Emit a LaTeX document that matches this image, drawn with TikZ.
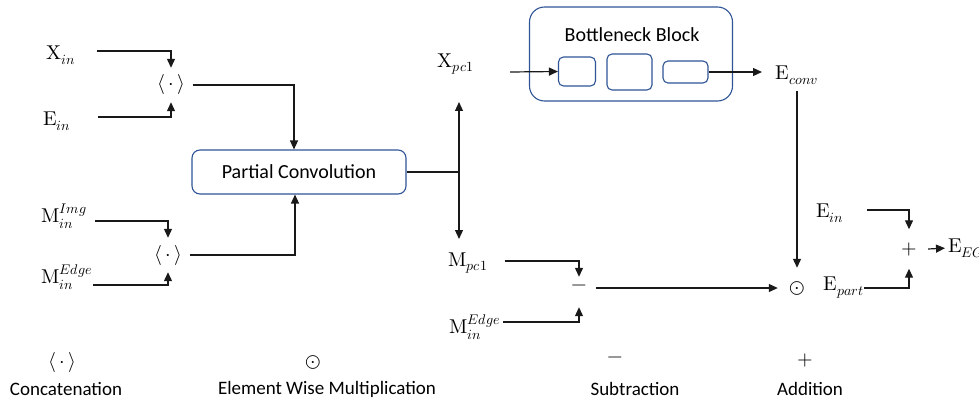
\documentclass[tikz,border=0pt]{standalone}
\usepackage{fontspec}
\usepackage{unicode-math}
\setmainfont{Carlito}
\setmathfont{Latin Modern Math}
\usetikzlibrary{arrows.meta}
\definecolor{boxblue}{RGB}{47,85,151}
\definecolor{linecol}{RGB}{25,25,25}
\begin{document}
\begin{tikzpicture}[x=1pt,y=-1pt,
  lbl/.style={inner sep=0pt,font=\fontsize{20}{24}\selectfont},
  op/.style={inner sep=0pt,font=\fontsize{20}{24}\selectfont},
  wire/.style={draw=linecol,line width=1.2pt},
  arr/.style={wire,-{Triangle[length=9pt,width=8pt]}},
  rbox/.style={draw=boxblue,line width=1.1pt,rounded corners=8pt,fill=white,inner sep=0pt},
  txt/.style={font=\fontsize{20}{24}\selectfont,inner sep=0pt},
  legtxt/.style={font=\fontsize{19}{22}\selectfont,inner sep=0pt}]
\useasboundingbox (0,0) rectangle (979,401);

% ---------- left inputs ----------
\node[lbl] (xin) at (61,55) {$\symup{X}_{in}$};
\node[lbl] (ein) at (57,121) {$\symup{E}_{in}$};
\node[lbl] (mimg) at (64,216) {$\symup{M}_{in}^{Img}$};
\node[lbl] (medge) at (67,277) {$\symup{M}_{in}^{Edge}$};
\coordinate (xinS) at (97,51);
\coordinate (einS) at (98,117);
\coordinate (mimgS) at (95,221);
\coordinate (medgeS) at (93,285);

\node[op,minimum width=44pt,minimum height=34pt] (cat1) at (171,85) {$\langle\,\cdot\,\rangle$};
\node[op,minimum width=44pt,minimum height=34pt] (cat2) at (168,255) {$\langle\,\cdot\,\rangle$};

\node[rbox,txt,minimum width=214pt,minimum height=44pt] (pc) at (299,172) {Partial Convolution};

\draw[arr] (xinS) -| (cat1.north);
\draw[arr] (einS) -| (cat1.south);
\draw[arr] (mimgS) -| (cat2.north);
\draw[arr] (medgeS) -| (cat2.south);
\draw[arr] (cat1.east) -| ([xshift=-5pt]pc.north);
\draw[arr] (cat2.east) -| ([xshift=-4pt]pc.south);

% ---------- split ----------
\coordinate (jn) at (459,172);
\coordinate (jt) at (459,102);
\coordinate (jb) at (459,239);
\draw[wire] (pc.east) -- (jn);
\draw[arr] (jn) -- (jt);
\draw[arr] (jn) -- (jb);

% ---------- bottleneck ----------
\node[lbl] (xpc) at (456,64) {$\symup{X}_{pc1}$};
\coordinate (xpcS) at (510,72);
\node[rbox,rounded corners=15pt,minimum width=203pt,minimum height=94pt] (bb) at (631,54) {};
\node[txt] (bbt) at (632,35) {Bottleneck Block};
\node[rbox,rounded corners=5pt,minimum width=37pt,minimum height=29pt] (b1) at (577,71.5) {};
\node[rbox,rounded corners=5pt,minimum width=45pt,minimum height=36pt] (b2) at (629.5,72) {};
\node[rbox,rounded corners=5pt,minimum width=45pt,minimum height=22pt] (b3) at (685.5,72) {};
\draw[arr] (xpcS) -- (b1.west);

\node[lbl] (econv) at (797,75) {$\symup{E}_{conv}$};
\coordinate (ectip) at (762,72);
\draw[arr] (b3.east) -- (ectip);

% ---------- mask path ----------
\node[lbl] (mpc) at (468,263) {$\symup{M}_{pc1}$};
\node[lbl] (medge2) at (475,327) {$\symup{M}_{in}^{Edge}$};
\coordinate (mpcS) at (505,261);
\coordinate (medge2S) at (503,322);
\node[op,minimum width=34pt,minimum height=22pt] (sub) at (579,288) {$-$};
\draw[arr] (mpcS) -| (sub.north);
\draw[arr] (medge2S) -| ([yshift=-8pt]sub.south);

\node[op,minimum width=38pt,minimum height=40pt] (odot) at (797,288) {$\odot$};
\draw[arr] (sub.east) -- (odot.west);
\draw[arr,shorten <=6pt] (econv.south -| odot.north) -- (odot.north);

% ---------- addition ----------
\node[lbl,anchor=east] (epart) at (864,288) {$\symup{E}_{part}$};
\node[lbl] (ein2) at (830,213) {$\symup{E}_{in}$};
\coordinate (ein2S) at (867,210);
\node[op,minimum width=38pt,minimum height=39pt] (plus) at (909,249) {$+$};
\node[lbl,anchor=west] (eeg) at (948,248) {$\symup{E}_{EG}$};
\draw[arr] (ein2S) -| (plus.north);
\draw[arr] (epart.east) -| (plus.south);
\draw[arr,shorten >=3pt] (plus.east) -- (eeg.west);

% ---------- legend ----------
\node[op] (lcat) at (62,362) {$\langle\,\cdot\,\rangle$};
\node[legtxt] (lcatt) at (66,389) {Concatenation};
\node[op] (lodot) at (313,362) {$\odot$};
\node[legtxt] (lodott) at (327,389) {Element Wise Multiplication};
\node[op] (lsub) at (615,360) {$-$};
\node[legtxt] (lsubt) at (635,389) {Subtraction};
\node[op] (ladd) at (805,360) {$+$};
\node[legtxt] (laddt) at (810,389) {Addition};
\end{tikzpicture}
\end{document}
